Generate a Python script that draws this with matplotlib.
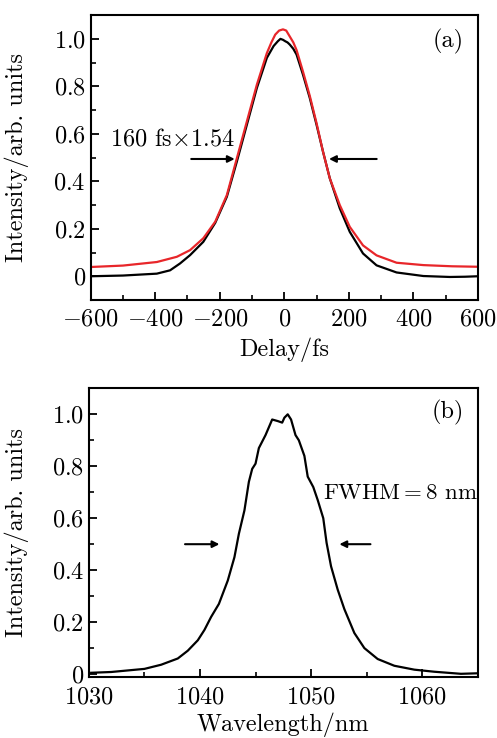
import matplotlib
matplotlib.use("Agg")
import matplotlib.pyplot as plt
from matplotlib.ticker import MultipleLocator, FuncFormatter

plt.rcParams["font.family"] = "serif"
plt.rcParams["font.serif"] = ["cmr10"]
plt.rcParams["mathtext.fontset"] = "cm"
plt.rcParams["axes.unicode_minus"] = False
plt.rcParams["axes.formatter.use_mathtext"] = True

# ── (a) autocorrelation trace ──
delay_meas = [-600, -500, -395, -354, -323, -292, -251, -214, -178, -147, -116, -85, -54,
              -33, -20, -12, -4, 3, 10, 17, 28, 38, 58, 79, 100, 120, 141, 172, 203,
              244, 286, 348, 431, 513, 560, 600]
ac_meas = [0.0, 0.003, 0.011, 0.025, 0.054, 0.089, 0.145, 0.225, 0.335, 0.483, 0.638, 0.793, 0.92,
           0.97, 0.99, 1.0, 0.996, 0.99, 0.985, 0.976, 0.958, 0.934, 0.849, 0.751, 0.638, 0.525,
           0.413, 0.286, 0.187, 0.096, 0.046, 0.016, 0.001, -0.003, -0.002, 0.0]

delay_fit = [-600, -500, -395, -333, -292, -251, -214, -178, -147, -116, -85, -54, -40,
             -28, -16, -4, 6, 17, 28, 38, 58, 79, 100, 120, 141, 172, 203, 244, 286,
             348, 431, 520, 600]
ac_fit = [0.039, 0.045, 0.06, 0.082, 0.11, 0.16, 0.23, 0.342, 0.497, 0.652, 0.807, 0.94, 0.985,
          1.018, 1.035, 1.04, 1.035, 1.01, 0.985, 0.953, 0.862, 0.76, 0.645, 0.525, 0.413, 0.30,
          0.208, 0.13, 0.088, 0.057, 0.047, 0.042, 0.04]

# ── (b) spectrum ──
wl = [1030.2, 1032.0, 1035.0, 1036.5, 1038.0, 1038.9, 1039.8, 1040.4, 1041.0, 1041.7, 1042.5,
      1043.1, 1043.5, 1044.0, 1044.4, 1044.7, 1045.0, 1045.3, 1045.9, 1046.2, 1046.5, 1047.0,
      1047.4, 1047.6, 1047.9, 1048.2, 1048.6, 1048.9, 1049.4, 1049.7, 1050.2, 1050.6, 1051.1,
      1051.4, 1051.8, 1052.4, 1053.0, 1053.9, 1054.8, 1056.0, 1057.5, 1059.3, 1061.1, 1063.5,
      1065.0]
spec = [0.005, 0.008, 0.02, 0.036, 0.06, 0.09, 0.13, 0.17, 0.22, 0.27, 0.36,
        0.45, 0.54, 0.63, 0.74, 0.79, 0.81, 0.87, 0.92, 0.95, 0.98, 0.974,
        0.968, 0.987, 1.0, 0.98, 0.92, 0.90, 0.84, 0.76, 0.72, 0.67, 0.60,
        0.505, 0.415, 0.325, 0.25, 0.158, 0.10, 0.058, 0.032, 0.017, 0.009, 0.001,
        0.003]

FS = 17.5
LW = 1.6


def fmt_x(v, _):
    return f"${v:.0f}$"


def fmt_y(v, _):
    return "$0$" if abs(v) < 1e-9 else f"${v:.1f}$"


def style_axes(ax):
    for s in ax.spines.values():
        s.set_linewidth(1.5)
    ax.tick_params(which="both", direction="in", top=False, right=False, labelsize=FS)
    ax.tick_params(which="major", length=6, width=1.3)
    ax.tick_params(which="minor", length=3.5, width=1.2)
    ax.yaxis.set_major_locator(MultipleLocator(0.2))
    ax.yaxis.set_minor_locator(MultipleLocator(0.1))
    ax.yaxis.set_major_formatter(FuncFormatter(fmt_y))
    ax.xaxis.set_major_formatter(FuncFormatter(fmt_x))
    ax.set_ylabel("Intensity/arb. units", fontsize=FS)


fig = plt.figure(figsize=(4.97, 7.38), dpi=100)

ax1 = fig.add_axes([0.1825, 0.5935, 0.779, 0.386])
ax1.plot(delay_meas, ac_meas, color="black", lw=LW)
ax1.plot(delay_fit, ac_fit, color="#e8262a", lw=LW)
ax1.set_xlim(-600, 600)
ax1.set_ylim(-0.1, 1.1)
ax1.xaxis.set_major_locator(MultipleLocator(200))
ax1.xaxis.set_minor_locator(MultipleLocator(100))
style_axes(ax1)
ax1.tick_params(axis="x", pad=6)
ax1.set_xlabel("Delay/fs", fontsize=FS)
ax1.yaxis.set_label_coords(-0.159, 0.5)
ax1.xaxis.set_label_coords(0.5, -0.13)
ax1.annotate("", xy=(-145, 0.494), xytext=(-297, 0.494),
             arrowprops=dict(arrowstyle="-|>", color="black", lw=1.5, mutation_scale=10))
ax1.annotate("", xy=(130, 0.494), xytext=(295, 0.494),
             arrowprops=dict(arrowstyle="-|>", color="black", lw=1.5, mutation_scale=10))
ax1.text(-540, 0.575, r"160 fs$\times$1.54", fontsize=FS, ha="left", va="center")
ax1.text(555, 0.99, "(a)", fontsize=FS, ha="right", va="center")

ax2 = fig.add_axes([0.179, 0.0831, 0.782, 0.3907])
ax2.plot(wl, spec, color="black", lw=LW)
ax2.set_xlim(1030, 1065)
ax2.set_ylim(-0.01, 1.1)
ax2.xaxis.set_major_locator(MultipleLocator(10))
ax2.xaxis.set_minor_locator(MultipleLocator(5))
style_axes(ax2)
ax2.tick_params(axis="x", pad=7)
ax2.set_xlabel("Wavelength/nm", fontsize=FS)
ax2.yaxis.set_label_coords(-0.154, 0.5)
ax2.xaxis.set_label_coords(0.5, -0.124)
ax2.annotate("", xy=(1042.0, 0.5), xytext=(1038.4, 0.5),
             arrowprops=dict(arrowstyle="-|>", color="black", lw=1.5, mutation_scale=10))
ax2.annotate("", xy=(1052.3, 0.5), xytext=(1055.6, 0.5),
             arrowprops=dict(arrowstyle="-|>", color="black", lw=1.5, mutation_scale=10))
ax2.text(1051.05, 0.698, r"FWHM$=$8 nm", fontsize=16.5, ha="left", va="center")
ax2.text(1063.8, 1.006, "(b)", fontsize=FS, ha="right", va="center")

fig.savefig("out.png", dpi=100)
